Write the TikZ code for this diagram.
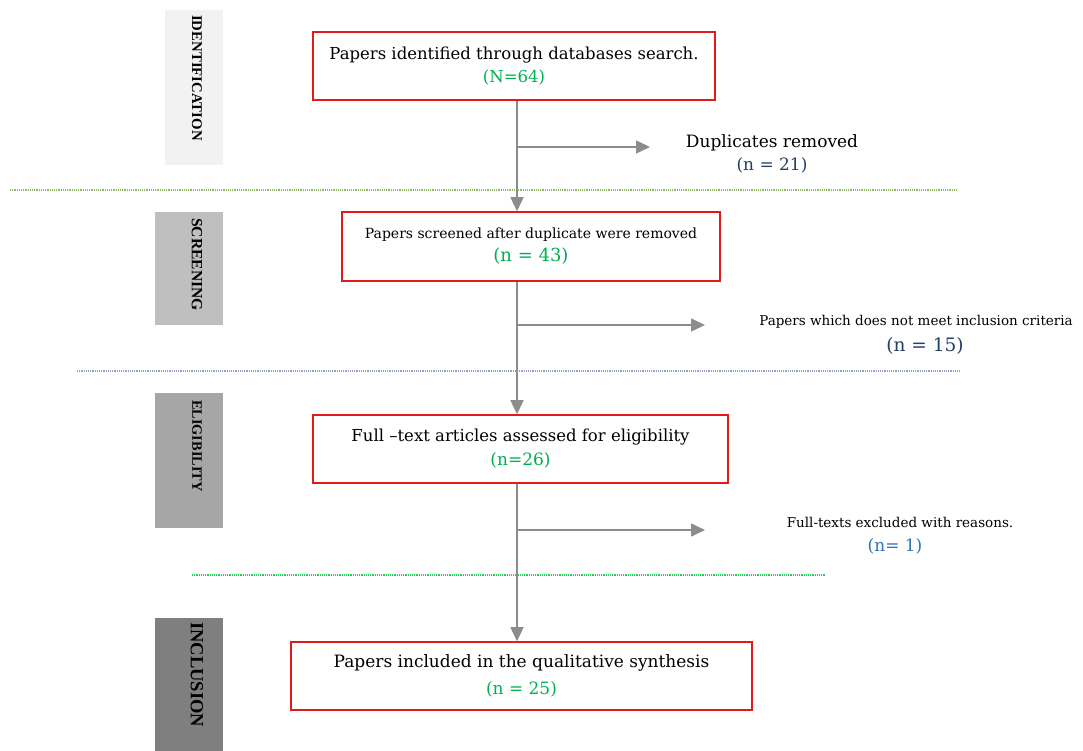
\documentclass[tikz,border=0pt]{standalone}
\usepackage{fontspec}
\setmainfont{DejaVu Serif}
\newfontfamily\labelfont{Liberation Serif}
\usetikzlibrary{arrows.meta}
\definecolor{boxred}{HTML}{E01B1B}
\definecolor{numgreen}{HTML}{00B050}
\definecolor{navy}{HTML}{243F66}
\definecolor{midblue}{HTML}{2E75B6}
\definecolor{arrgray}{HTML}{8C8C8C}
\definecolor{dotolive}{HTML}{8DB860}
\definecolor{dotblue}{HTML}{8FA3C0}
\definecolor{dotgreen}{HTML}{2EC860}
\begin{document}
\begin{tikzpicture}[x=1pt,y=-1pt,
  stagelabel/.style={rotate=-90,anchor=west,inner sep=0pt},
  flowbox/.style={draw=boxred,line width=1.6pt,inner sep=0pt,align=center},
  flowarrow/.style={draw=arrgray,line width=1.5pt,-{Triangle[length=14pt,width=13pt]}},
  sepline/.style={line width=1.1pt,dash pattern=on 1.1pt off 1.1pt},
  sidetext/.style={align=center,inner sep=0pt}]
\useasboundingbox (0,0) rectangle (1083,751);
\fill[white] (0,0) rectangle (1083,751);
% stage bars
\fill[fill={rgb,255:red,242;green,242;blue,242}] (165,10) rectangle (223,165);
\fill[fill={rgb,255:red,191;green,191;blue,191}] (155,212) rectangle (223,325);
\fill[fill={rgb,255:red,166;green,166;blue,166}] (155,393) rectangle (223,528);
\fill[fill={rgb,255:red,127;green,127;blue,127}] (155,618) rectangle (223,751);
\node[stagelabel,font=\labelfont\bfseries\fontsize{14.8}{16}\selectfont] (lid) at (197,15) {IDENTIFICATION};
\node[stagelabel,font=\labelfont\bfseries\fontsize{15.6}{17}\selectfont] (lsc) at (197,218) {SCREENING};
\node[stagelabel,font=\labelfont\bfseries\fontsize{14.3}{16}\selectfont] (lel) at (197,400) {ELIGIBILITY};
\node[stagelabel,font=\labelfont\bfseries\fontsize{18.5}{20}\selectfont] (lin) at (197,622) {INCLUSION};
% separators
\draw[sepline,draw=dotolive] (10,190) -- (958,190);
\draw[sepline,draw=dotblue] (77,371) -- (960,371);
\draw[sepline,draw=dotgreen] (192,575) -- (825,575);
% boxes
\node[flowbox,minimum width=402pt,minimum height=68pt,font=\fontsize{16.5}{23}\selectfont] (b1) at (514,66)
  {Papers identified through databases search.\\
   \textcolor{numgreen}{(N=64)}};
\node[flowbox,minimum width=378pt,minimum height=69pt,font=\fontsize{14}{23}\selectfont] (b2) at (531,246.5)
  {Papers screened after duplicate were removed\\
   \textcolor{numgreen}{\fontsize{18}{23}\selectfont (n = 43)}};
\node[flowbox,minimum width=415pt,minimum height=68pt,font=\fontsize{16.5}{24}\selectfont] (b3) at (520.5,449)
  {Full --text articles assessed for eligibility\\
   \textcolor{numgreen}{\fontsize{17}{24}\selectfont (n=26)}};
\node[flowbox,minimum width=461pt,minimum height=68pt,font=\fontsize{17}{27}\selectfont] (b4) at (521.5,676)
  {Papers included in the qualitative synthesis\\
   \textcolor{numgreen}{(n = 25)}};
% side texts
\node[sidetext,font=\fontsize{17}{23}\selectfont] (s1) at (772,153.5)
  {Duplicates removed\\
   \textcolor{navy}{(n = 21)}};
\node[sidetext,font=\fontsize{13.5}{26}\selectfont] (s2) at (916,335)
  {Papers which does not meet inclusion criteria\\
   \hspace*{18pt}\textcolor{navy}{\fontsize{18.5}{26}\selectfont (n = 15)}};
\node[sidetext,font=\fontsize{13.5}{24}\selectfont] (s3) at (900,536)
  {Full-texts excluded with reasons.\\
   \hspace*{-10pt}\textcolor{midblue}{\fontsize{17}{24}\selectfont (n= 1)}};
% junction coordinates
\coordinate (vx) at (517,0);
\coordinate (j1) at (517,147);
\coordinate (t1) at (650,147);
\coordinate (j2) at (517,325);
\coordinate (t2) at (705,325);
\coordinate (j3) at (517,530);
\coordinate (t3) at (705,530);
% connectors
\draw[flowarrow] (b1.south -| vx) -- (b2.north -| vx);
\draw[flowarrow] (b2.south -| vx) -- (b3.north -| vx);
\draw[flowarrow] (b3.south -| vx) -- (b4.north -| vx);
\draw[flowarrow] (j1) -- (t1);
\draw[flowarrow] (j2) -- (t2);
\draw[flowarrow] (j3) -- (t3);
\end{tikzpicture}
\end{document}
